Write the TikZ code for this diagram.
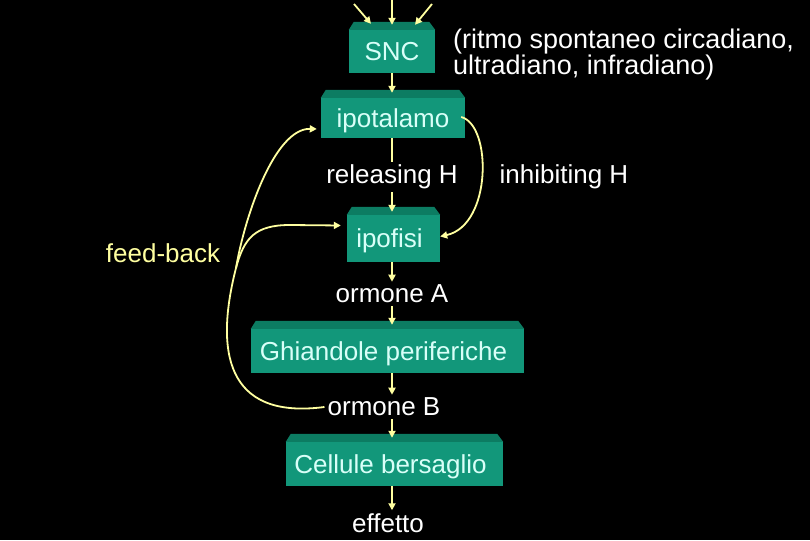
\documentclass[tikz,border=0pt]{standalone}
\usepackage{fontspec}
\setmainfont{Liberation Sans}
\usetikzlibrary{arrows.meta, calc}
\definecolor{verdebox}{HTML}{12977A}
\definecolor{verdebordo}{HTML}{0C7C62}
\definecolor{giallofreccia}{HTML}{FFFFA0}
\definecolor{testobox}{HTML}{D8FFF8}

\begin{document}
\begin{tikzpicture}[
      x=1pt,
      y=-1pt,
      font=\fontsize{26}{25}\selectfont,
      blocco/.style={
        fill=verdebox,
        text=testobox,
        text depth=0pt,
        inner sep=0pt
      },
      etichetta/.style={
        text=white,
        inner sep=3pt
      },
      freccia/.style={
        -{Triangle[length=7pt,width=7pt]},
        line width=1.8pt,
        draw=giallofreccia
      },
      linea/.style={
        line width=1.8pt,
        draw=giallofreccia
      }
  ]

    \fill[black] (0,0) rectangle (810,540);
    \useasboundingbox (0,0) rectangle (810,540);

    % Blocchi
    \node[blocco, minimum width=86pt, minimum height=43pt] (snc) at (392,51.5) {SNC};
    \node[blocco, minimum width=144pt, minimum height=40pt] (ipo) at (393,118) {ipotalamo};
    \node[blocco, minimum width=93pt, minimum height=47pt] (ipof) at (393.5,238.5) {ipofisi\hspace*{8pt}};
    \node[blocco, minimum width=273pt, minimum height=44pt] (ghi) at (387.5,351) {Ghiandole periferiche\hspace*{8pt}};
    \node[blocco, minimum width=217pt, minimum height=44pt] (cel) at (394.5,464) {Cellule bersaglio\hspace*{8pt}};

    \foreach \b in {snc,ipo,ipof,ghi,cel} {
      \fill[verdebordo] (\b.north west) -- ([shift={(5pt,8pt)}]\b.north west)
        -- ([shift={(-6pt,8pt)}]\b.north east) -- (\b.north east) -- cycle;
    }

    % Etichette
    \node[etichetta] (rel) at (392,177) {releasing H};
    \node[etichetta] (inib) at (564,177) {inhibiting H};
    \node[etichetta] (ormA) at (392,294) {ormone A};
    \node[etichetta] (ormB) at (384,407) {ormone B};
    \node[etichetta] (eff) at (388,523) {effetto};
    \node[etichetta, text=giallofreccia] (fb) at (163,253) {feed-back};
    \node[
      etichetta,
      inner sep=0pt,
      anchor=north west,
      align=left,
      font=\fontsize{27}{25}\selectfont
    ] (nota) at (453,29) {(ritmo spontaneo circadiano,\\ultradiano, infradiano)};

    % Ingressi al SNC
    \coordinate (in1) at (354,4);
    \coordinate (in2) at (392,0);
    \coordinate (in3) at (432,4);
    \draw[freccia] (in1) -- ($(snc.north)+(-21,-6)$);
    \draw[freccia] (in2) -- ($(snc.north)+(0,-5)$);
    \draw[freccia] (in3) -- ($(snc.north)+(23,-5)$);

    % Catena principale
    \draw[freccia] (snc.south) -- ($(ipo.north -| snc)+(0,-5)$);
    \draw[linea] (ipo.south -| snc) -- (rel.north -| snc);
    \draw[freccia] (rel.south -| snc) -- ($(ipof.north -| snc)+(0,-3)$);
    \draw[freccia] (ipof.south -| snc) -- (ormA.north -| snc);
    \draw[freccia] (ormA.south -| snc) -- ($(ghi.north -| snc)+(0,-4)$);
    \draw[freccia] (ghi.south -| snc) -- (ormB.north -| snc);
    \draw[freccia] (ormB.south -| snc) -- ($(cel.north -| snc)+(0,-4)$);
    \draw[freccia] (cel.south -| snc) -- (eff.north -| snc);

    % Inibizione
    \draw[freccia] ($(ipo.east)+(-4,-1)$)
      .. controls (492,125) and (492,225) .. ($(ipof.east)+(0,-2)$);

    % Feed-back
    \coordinate (ramo) at (236,268);
    \draw[linea] (ormB.west) .. controls (225,420) and (215,350) .. (ramo);
    \draw[freccia] (ramo) .. controls (245,215) and (275,128) .. ($(ipo.west)+(-4,11)$);
    \draw[freccia] (ramo) .. controls (244,238) and (255,225) .. (290,225)
      -- ($(ipof.west)+(-6,-13)$);

  \end{tikzpicture}
\end{document}
